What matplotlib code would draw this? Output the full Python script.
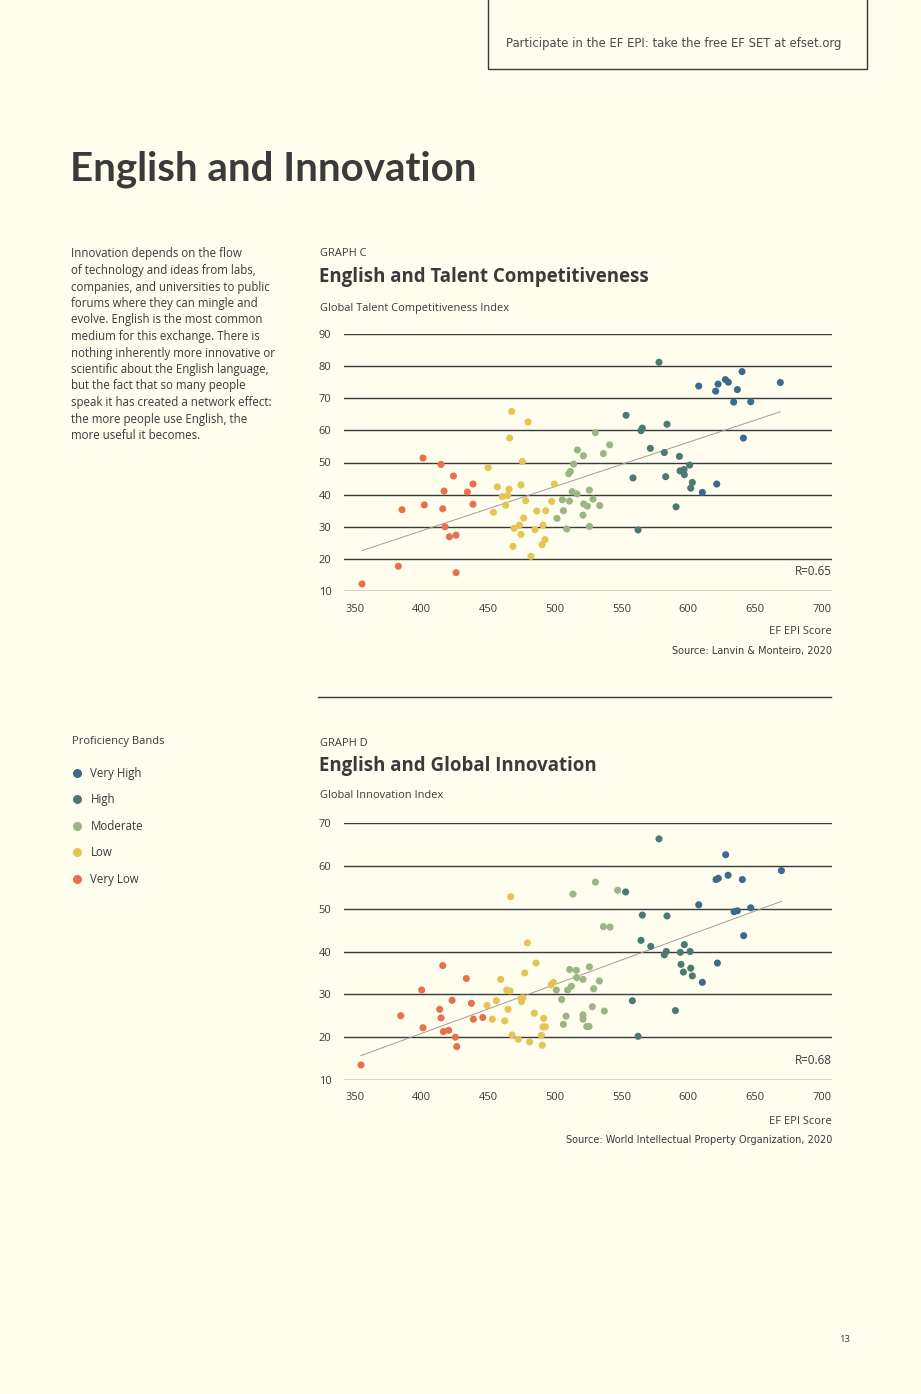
import numpy as np
import matplotlib
matplotlib.use('Agg')
import matplotlib.pyplot as plt
from matplotlib.patches import Rectangle
from matplotlib.lines import Line2D

plt.rcParams['font.family'] = ['Open Sans', 'DejaVu Sans']

W, H = 921, 1394
BG = '#fefdee'
TEXT = '#3a3a3a'

bands = ['Very High', 'High', 'Moderate', 'Low', 'Very Low']
band_colors = ['#3b6a8e', '#4d7a70', '#9bb585', '#e5c453', '#e8704a']

# Graph C: EF EPI score vs Global Talent Competitiveness Index
gtci_very_high_epi = [640.3, 607.8, 622.3, 627.8, 630.0, 620.5, 636.8, 669.0, 634.0, 646.8, 641.3, 621.3, 610.5]
gtci_very_high_val = [78.3, 73.8, 74.4, 75.8, 75.0, 72.2, 72.7, 74.9, 68.8, 68.9, 57.6, 43.3, 40.7]
gtci_high_epi = [578.0, 553.3, 565.5, 564.5, 584.0, 571.5, 582.0, 593.3, 558.5, 583.0, 601.0, 593.8,
                 596.8, 597.0, 603.0, 601.8, 590.8, 562.3]
gtci_high_val = [81.2, 64.7, 60.7, 59.9, 61.9, 54.4, 53.1, 51.9, 45.2, 45.6, 49.2, 47.4,
                 47.8, 46.2, 43.8, 42.0, 36.2, 29.0]
gtci_moderate_epi = [516.8, 521.3, 514.0, 510.3, 511.5, 512.8, 516.5, 525.8, 505.5, 510.8, 521.5,
                     524.3, 506.3, 501.5, 521.0, 508.8, 525.8, 530.3, 541.0, 536.3, 528.5, 533.5]
gtci_moderate_val = [53.9, 52.1, 49.5, 46.5, 47.2, 40.9, 40.2, 41.4, 38.4, 38.0, 37.1,
                     36.4, 35.0, 32.6, 33.6, 29.3, 30.1, 59.3, 55.5, 52.8, 38.6, 36.6]
gtci_low_epi = [467.5, 479.8, 466.0, 475.5, 449.8, 456.8, 465.5, 474.5, 499.5, 460.5, 464.5, 478.0,
                463.0, 497.5, 453.8, 486.3, 493.0, 476.5, 469.3, 473.3, 491.0, 474.5, 485.0, 492.5,
                490.3, 468.5, 482.0]
gtci_low_val = [65.9, 62.6, 57.6, 50.3, 48.4, 42.4, 41.7, 43.0, 43.3, 39.4, 39.7, 38.1,
                36.7, 37.9, 34.5, 34.9, 35.0, 32.7, 29.5, 30.5, 30.5, 27.6, 29.1, 26.0,
                24.4, 23.9, 20.8]
gtci_very_low_epi = [401.0, 414.5, 423.8, 438.5, 416.8, 434.3, 438.5, 402.0, 385.3, 415.8, 417.5,
                     420.8, 425.8, 382.5, 425.8, 355.3]
gtci_very_low_val = [51.4, 49.4, 45.8, 43.3, 41.1, 40.8, 37.0, 36.8, 35.3, 35.6, 30.0,
                     26.9, 27.4, 17.7, 15.7, 12.2]

# Graph D: EF EPI score vs Global Innovation Index
gii_very_high_epi = [628.0, 629.8, 620.8, 622.5, 640.5, 669.8, 607.8, 634.3, 636.8, 646.8, 641.5, 621.8, 610.5]
gii_very_high_val = [62.6, 57.8, 56.8, 57.1, 56.8, 58.9, 50.9, 49.3, 49.5, 50.2, 43.7, 37.3, 32.8]
gii_high_epi = [578.0, 553.0, 565.5, 584.0, 564.5, 571.8, 597.0, 583.5, 582.0, 594.0, 601.3, 594.5,
                601.8, 596.3, 603.0, 558.0, 590.3, 562.3]
gii_high_val = [66.3, 53.9, 48.5, 48.3, 42.6, 41.2, 41.6, 40.0, 39.2, 39.8, 40.0, 37.0,
                36.1, 35.2, 34.3, 28.5, 26.2, 20.2]
gii_moderate_epi = [513.5, 511.0, 516.0, 525.8, 516.3, 521.0, 501.0, 509.5, 512.3, 505.0, 508.3, 521.0,
                    521.0, 506.3, 523.8, 530.3, 547.0, 536.3, 541.3, 533.3, 529.0, 528.0, 537.0, 525.5]
gii_moderate_val = [53.4, 35.8, 35.6, 36.4, 33.9, 33.5, 31.0, 31.0, 31.9, 28.8, 24.9, 25.2,
                    24.2, 23.0, 22.5, 56.2, 54.3, 45.8, 45.7, 33.1, 31.3, 27.1, 26.1, 22.5]
gii_low_epi = [466.8, 479.3, 485.8, 459.3, 477.3, 463.8, 466.3, 456.0, 449.0, 474.5, 476.0, 474.8,
               497.0, 498.8, 464.8, 453.0, 462.3, 484.5, 491.5, 491.0, 492.8, 467.8, 472.5, 481.0,
               489.8, 490.5]
gii_low_val = [52.8, 42.0, 37.3, 33.5, 35.0, 31.0, 30.8, 28.5, 27.4, 29.1, 29.2, 28.3,
               32.2, 32.8, 26.5, 24.2, 23.8, 25.6, 24.4, 22.4, 22.4, 20.5, 19.5, 18.9,
               20.4, 18.1]
gii_very_low_epi = [415.8, 433.5, 400.0, 422.8, 437.3, 384.3, 413.5, 414.5, 438.8, 445.8, 401.0,
                    416.3, 420.3, 425.3, 426.3, 354.5]
gii_very_low_val = [36.7, 33.7, 31.0, 28.6, 27.9, 25.0, 26.5, 24.5, 24.2, 24.6, 22.2,
                    21.3, 21.6, 20.0, 17.8, 13.5]

x_ticks = [350, 400, 450, 500, 550, 600, 650, 700]
gtci_ticks = [10, 20, 30, 40, 50, 60, 70, 80, 90]
gii_ticks = [10, 20, 30, 40, 50, 60, 70]

paragraph = [
    "Innovation depends on the flow",
    "of technology and ideas from labs,",
    "companies, and universities to public",
    "forums where they can mingle and",
    "evolve. English is the most common",
    "medium for this exchange. There is",
    "nothing inherently more innovative or",
    "scientific about the English language,",
    "but the fact that so many people",
    "speak it has created a network effect:",
    "the more people use English, the",
    "more useful it becomes.",
]


def fx(x):
    return x / W


def fy(y):
    return 1 - y / H


def draw_scatter(ax, series, yticks, r_text, r_y):
    ax.set_facecolor('none')
    all_x, all_y = [], []
    for (xs, ys), color in zip(series, band_colors):
        ax.scatter(xs, ys, s=26, color=color, edgecolors='none', zorder=3, clip_on=False)
        all_x += xs
        all_y += ys
    slope, icpt = np.polyfit(all_x, all_y, 1)
    lx = np.array([min(all_x), max(all_x)])
    ax.plot(lx, slope * lx + icpt, color='#a09d95', linewidth=0.7, zorder=2)
    ax.set_xlim(341.75, 707.75)
    ax.set_ylim(yticks[0], yticks[-1])
    ax.set_xticks(x_ticks)
    ax.set_yticks(yticks)
    for y in yticks:
        ax.axhline(y, color='#3a3a3a', linewidth=1.0, zorder=1)
    for s in ax.spines.values():
        s.set_visible(False)
    ax.tick_params(axis='both', length=0, labelsize=8.0, labelcolor=TEXT)
    ax.tick_params(axis='x', pad=9)
    ax.tick_params(axis='y', pad=9)
    ax.text(1.0, r_y, r_text, transform=ax.get_yaxis_transform(),
            ha='right', va='center', fontsize=8.4, color=TEXT)


fig = plt.figure(figsize=(W / 100, H / 100), dpi=100, facecolor=BG)

# header box
fig.patches.append(Rectangle((fx(488), fy(69)), fx(867) - fx(488), fy(0) - fy(69) + 0.01,
                             transform=fig.transFigure, fill=False, edgecolor='#3a3a3a', linewidth=1.0))
fig.text(fx(506), fy(44), "Participate in the EF EPI: take the free EF SET at efset.org",
         ha='left', va='center', fontsize=8.4, color='#4a4a4a', family='DejaVu Sans')

fig.text(fx(70), fy(181), "English and Innovation", ha='left', va='baseline',
         fontsize=29, fontweight='bold', color=TEXT, family='Lato')

for i, line in enumerate(paragraph):
    fig.text(fx(71), fy(254 + i * 16.5), line, ha='left', va='center', fontsize=8.3, color=TEXT)

# Graph C
fig.text(fx(320), fy(253), "GRAPH C", ha='left', va='center', fontsize=7.9, color=TEXT)
fig.text(fx(319), fy(277), "English and Talent Competitiveness", ha='left', va='center',
         fontsize=13.4, fontweight='bold', color=TEXT)
fig.text(fx(320), fy(308), "Global Talent Competitiveness Index", ha='left', va='center',
         fontsize=7.9, color=TEXT)
ax_c = fig.add_axes([fx(344), fy(591), fx(832) - fx(344), fy(334) - fy(591)])
draw_scatter(ax_c, [(gtci_very_high_epi, gtci_very_high_val), (gtci_high_epi, gtci_high_val),
                    (gtci_moderate_epi, gtci_moderate_val), (gtci_low_epi, gtci_low_val),
                    (gtci_very_low_epi, gtci_very_low_val)], gtci_ticks, "R=0.65", 16.2)
fig.text(fx(832), fy(632), "EF EPI Score", ha='right', va='center', fontsize=8.0, color=TEXT)
fig.text(fx(832), fy(651), "Source: Lanvin & Monteiro, 2020", ha='right', va='center',
         fontsize=7.0, color=TEXT, family='DejaVu Sans')

fig.add_artist(Line2D([fx(318), fx(831)], [fy(697), fy(697)], transform=fig.transFigure,
                      color='#3a3a3a', linewidth=1.0))

# legend
fig.text(fx(72), fy(742), "Proficiency Bands", ha='left', va='center', fontsize=8.0, color=TEXT)
handles = [Line2D([], [], marker='o', linestyle='none', markersize=6.5, color=c, markeredgewidth=0)
           for c in band_colors]
fig.legend(handles, bands, loc='upper left', bbox_to_anchor=(fx(72), fy(767)), frameon=False,
           fontsize=8.3, labelcolor=TEXT, handlelength=0.9, handletextpad=0.7,
           labelspacing=1.17, borderaxespad=0, borderpad=0)

# Graph D
fig.text(fx(320), fy(743), "GRAPH D", ha='left', va='center', fontsize=7.9, color=TEXT)
fig.text(fx(319), fy(766), "English and Global Innovation", ha='left', va='center',
         fontsize=13.4, fontweight='bold', color=TEXT)
fig.text(fx(320), fy(796), "Global Innovation Index", ha='left', va='center', fontsize=7.9, color=TEXT)
ax_d = fig.add_axes([fx(344), fy(1080), fx(832) - fx(344), fy(823) - fy(1080)])
draw_scatter(ax_d, [(gii_very_high_epi, gii_very_high_val), (gii_high_epi, gii_high_val),
                    (gii_moderate_epi, gii_moderate_val), (gii_low_epi, gii_low_val),
                    (gii_very_low_epi, gii_very_low_val)], gii_ticks, "R=0.68", 14.5)
fig.text(fx(832), fy(1121), "EF EPI Score", ha='right', va='center', fontsize=8.0, color=TEXT)
fig.text(fx(832), fy(1140), "Source: World Intellectual Property Organization, 2020", ha='right',
         va='center', fontsize=7.0, color=TEXT, family='DejaVu Sans')

fig.text(fx(850), fy(1340), "13", ha='right', va='center', fontsize=6.8, color=TEXT)

fig.savefig('out.png', dpi=100, facecolor=BG)
